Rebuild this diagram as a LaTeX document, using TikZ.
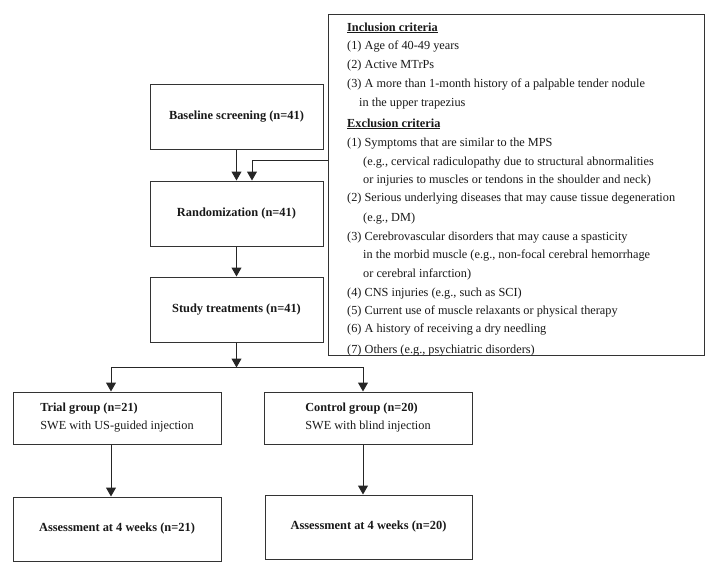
\documentclass[tikz,border=0pt]{standalone}
\usepackage{fontspec}
\setmainfont{Liberation Serif}
\usetikzlibrary{arrows.meta,calc}
\begin{document}
\begin{tikzpicture}[x=1pt,y=-1pt,
  box/.style={draw=black!80, line width=1pt, inner sep=0pt, text=black!90, font=\fontsize{12.3}{18}\selectfont},
  bbox/.style={box, font=\fontsize{12.4}{18}\selectfont\bfseries},
  arr/.style={draw=black!85, line width=1pt, -{Triangle[length=9pt,width=10pt]}},
  crit/.style={anchor=base west, inner sep=0pt, font=\fontsize{12.3}{14}\selectfont, text=black!90}]
\useasboundingbox[fill=white] (0,0) rectangle (722,574);

% main flow boxes
\node[bbox, minimum width=173pt, minimum height=65pt] (base) at (236.5,116.5) {Baseline screening (n=41)};
\node[bbox, minimum width=173pt, minimum height=65pt] (rand) at (236.5,213.5) {Randomization (n=41)};
\node[bbox, minimum width=173pt, minimum height=65pt] (study) at (236.5,309.5) {Study treatments (n=41)};
\node[box, minimum width=208pt, minimum height=52pt, align=left] (trial) at (117,418) {\textbf{Trial group (n=21)}\\SWE with US-guided injection};
\node[box, minimum width=208pt, minimum height=52pt, align=left] (ctrl) at (368,418) {\textbf{Control group (n=20)}\\SWE with blind injection};
\node[bbox, minimum width=208pt, minimum height=64pt] (ass1) at (117,529) {Assessment at 4 weeks (n=21)};
\node[bbox, minimum width=207pt, minimum height=64pt] (ass2) at (368.5,527) {Assessment at 4 weeks (n=20)};

% criteria box
\node[draw=black!80, line width=1pt, minimum width=376pt, minimum height=341pt, inner sep=0pt, anchor=north west] (cbox) at (328,14) {};
\begin{scope}
\clip ([xshift=1pt,yshift=-0.6pt]cbox.north west) rectangle ([xshift=-1pt,yshift=0.6pt]cbox.south east);
\node[crit] (c1) at (347,31) {\underline{\textbf{Inclusion criteria}}};
\node[crit] (c2) at (347,49) {(1) Age of 40-49 years};
\node[crit] (c3) at (347,68) {(2) Active MTrPs};
\node[crit] (c4) at (347,87) {(3) A more than 1-month history of a palpable tender nodule};
\node[crit] (c5) at (359,106) {in the upper trapezius};
\node[crit] (c6) at (347,127) {\underline{\textbf{Exclusion criteria}}};
\node[crit] (c7) at (347,146) {(1) Symptoms that are similar to the MPS};
\node[crit] (c8) at (363,165) {(e.g., cervical radiculopathy due to structural abnormalities};
\node[crit] (c9) at (363,183) {or injuries to muscles or tendons in the shoulder and neck)};
\node[crit] (c10) at (347,201) {(2) Serious underlying diseases that may cause tissue degeneration};
\node[crit] (c11) at (363,221) {(e.g., DM)};
\node[crit] (c12) at (347,240) {(3) Cerebrovascular disorders that may cause a spasticity};
\node[crit] (c13) at (363,258) {in the morbid muscle (e.g., non-focal cerebral hemorrhage};
\node[crit] (c14) at (363,277) {or cerebral infarction)};
\node[crit] (c15) at (347,296) {(4) CNS injuries (e.g., such as SCI)};
\node[crit] (c16) at (347,314) {(5) Current use of muscle relaxants or physical therapy};
\node[crit] (c17) at (347,332) {(6) A history of receiving a dry needling};
\node[crit] (c18) at (347,353.5) {(7) Others (e.g., psychiatric disorders)};
\end{scope}

% connectors
\draw[arr] (base.south) -- (rand.north);
\path (cbox.north west) ++(0,146) coordinate (exc);
\draw[arr] (exc) -| ([xshift=15.5pt]rand.north);
\draw[arr] (rand.south) -- (study.north);
\path (study.south) ++(0,25) coordinate (split);
\draw[arr] (study.south) -- (split);
\coordinate (tn) at ([xshift=-6pt]trial.north);
\coordinate (cn) at ([xshift=-5pt]ctrl.north);
\draw[arr] (split) -| (tn);
\draw[arr] (split) -| (cn);
\draw[arr] ([xshift=-6pt]trial.south) -- ([xshift=-6pt]trial.south |- ass1.north);
\draw[arr] ([xshift=-5pt]ctrl.south) -- ([xshift=-5pt]ctrl.south |- ass2.north);
\end{tikzpicture}
\end{document}
